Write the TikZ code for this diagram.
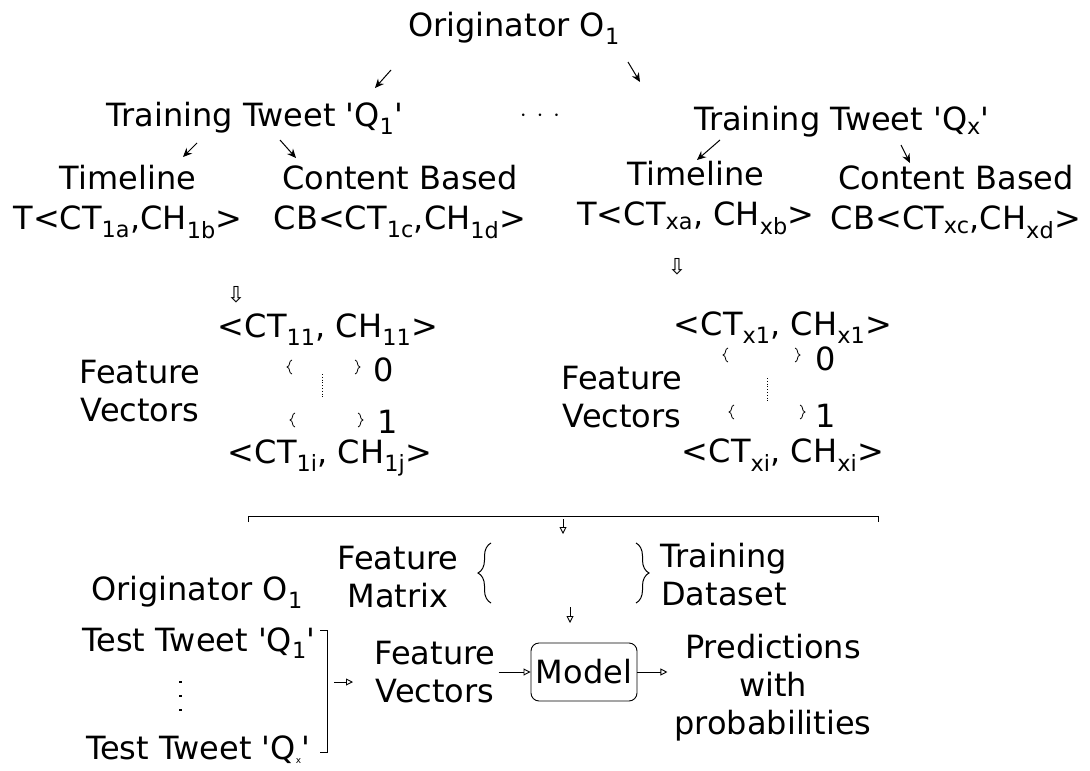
\documentclass[tikz,border=0pt]{standalone}
\usepackage{fontspec}
\setmainfont{DejaVu Sans}
\usetikzlibrary{arrows.meta, positioning, decorations.pathreplacing}
\newcommand{\sbs}[1]{\textsubscript{#1}}
\newcommand{\q}{\textquotesingle}

\tikzset{
  lbl/.style={font=\fontsize{32}{38}\selectfont, inner sep=0pt, align=center},
  dnarr/.style={font=\fontsize{22}{22}\selectfont, inner sep=0pt},
  tinybr/.style={decorate, decoration={brace, amplitude=5pt}, line width=0.8pt},
  bigbr/.style={decorate, decoration={brace, amplitude=13pt}, line width=1pt},
  solidarr/.style={-{Stealth[length=9pt,width=8pt]}, line width=1pt},
  openarr/.style={-{Triangle[open,length=7pt,width=7pt]}, line width=0.9pt},
}

\begin{document}
\begin{tikzpicture}[x=1pt,y=-1pt]
    \useasboundingbox (0,0) rectangle (1090,771);

    % top level
    \node[lbl] (orig) at (514,28) {Originator O\sbs{1}};
    \node[lbl] (tq1) at (255,118) {Training Tweet \q Q\sbs{1}\q};
    \node[lbl] (dots) at (540,116) {$\cdot\,\cdot\,\cdot$};
    \node[lbl] (tqx) at (842,122) {Training Tweet \q Q\sbs{x}\q};
    \coordinate (o1s) at (391,70);  \coordinate (o1e) at (375,88);
    \coordinate (o2s) at (628,62);  \coordinate (o2e) at (640,82);
    \draw[solidarr] (o1s) -- (o1e);
    \draw[solidarr] (o2s) -- (o2e);

    % left tweet branches
    \node[lbl] (tl1) at (128,202) {Timeline\\[2pt]T<CT\sbs{1a},CH\sbs{1b}>};
    \node[lbl] (cb1) at (400,202) {Content Based\\[2pt]CB<CT\sbs{1c},CH\sbs{1d}>};
    \coordinate (a1s) at (197,143); \coordinate (a1e) at (183,157);
    \coordinate (a2s) at (280,140); \coordinate (a2e) at (296,158);
    \draw[solidarr] (a1s) -- (a1e);
    \draw[solidarr] (a2s) -- (a2e);

    % right tweet branches
    \node[lbl] (tlx) at (696,198) {Timeline\\[2pt]T<CT\sbs{xa}, CH\sbs{xb}>};
    \node[lbl] (cbx) at (956,202) {Content Based\\[2pt]CB<CT\sbs{xc},CH\sbs{xd}>};
    \coordinate (b1s) at (720,140); \coordinate (b1e) at (697,160);
    \coordinate (b2s) at (901,145); \coordinate (b2e) at (910,163);
    \draw[solidarr] (b1s) -- (b1e);
    \draw[solidarr] (b2s) -- (b2e);

    \node[dnarr] (dn1) at (236,295) {⇩};
    \node[dnarr] (dnx) at (677,267) {⇩};

    % left feature vectors
    \node[lbl] (fv1) at (140,391) {Feature\\Vectors};
    \node[lbl] (v11) at (328,330) {<CT\sbs{11}, CH\sbs{11}>};
    \draw[tinybr] (292,374) -- (292,360);
    \draw[tinybr] (355,360) -- (355,374);
    \node[lbl] (z1) at (384,370) {0};
    \draw[tinybr] (295,427) -- (295,413);
    \draw[tinybr] (358,413) -- (358,427);
    \node[lbl] (o1) at (388,422) {1};
    \node[lbl] (v1j) at (330,458) {<CT\sbs{1i}, CH\sbs{1j}>};
    \draw[dotted, line width=0.8pt] (322,374) -- (322,398);

    % right feature vectors
    \node[lbl] (fvx) at (622,397) {Feature\\Vectors};
    \node[lbl] (vx1) at (783,328) {<CT\sbs{x1}, CH\sbs{x1}>};
    \draw[tinybr] (728,362) -- (728,348);
    \draw[tinybr] (795,348) -- (795,362);
    \node[lbl] (zx) at (826,359) {0};
    \draw[tinybr] (734,419) -- (734,405);
    \draw[tinybr] (800,405) -- (800,419);
    \node[lbl] (ox) at (826,416) {1};
    \node[lbl] (vxj) at (783,455) {<CT\sbs{xi}, CH\sbs{xi}>};
    \draw[dotted, line width=0.8pt] (767,378) -- (767,401);

    % collecting bracket
    \coordinate (bl) at (248,516); \coordinate (br) at (878,516);
    \draw[line width=0.9pt] ([yshift=-6pt]bl) -- (bl) -- (br) -- ([yshift=-6pt]br);
    \coordinate (m1s) at (563,519); \coordinate (m1e) at (563,534);
    \draw[openarr] (m1s) -- (m1e);

    % feature matrix / training dataset
    \node[lbl] (fm) at (398,577) {Feature\\Matrix};
    \draw[bigbr] (491,603) -- (491,543);
    \draw[bigbr] (636,543) -- (636,603);
    \node[lbl] (td) at (724,575) {Training\\Dataset};
    \coordinate (m2s) at (570,607); \coordinate (m2e) at (570,623);
    \draw[openarr] (m2s) -- (m2e);

    % test side
    \node[lbl] (orig2) at (197,592) {Originator O\sbs{1}};
    \node[lbl] (tt1) at (199,643) {Test Tweet \q Q\sbs{1}\q};
    \node[lbl] (ttx) at (198,750) {Test Tweet \q Q{\fontsize{9}{9}\selectfont\raisebox{-4pt}{x}}\q};
    \draw[line width=3pt, dash pattern=on 2pt off 12pt] (180,681) -- (180,712);
    \coordinate (kt) at (327,630); \coordinate (kb) at (327,752);
    \draw[line width=0.9pt] ([xshift=-7pt]kt) -- (kt) -- (kb) -- ([xshift=-7pt]kb);
    \coordinate (k1s) at (334,682); \coordinate (k1e) at (353,682);
    \draw[openarr] (k1s) -- (k1e);

    \node[lbl] (fvt) at (435,672) {Feature\\Vectors};
    \node[lbl, draw, rounded corners=8pt, line width=0.9pt, minimum width=106pt, minimum height=58pt] (model) at (584,672) {Model};
    \node[lbl] (pred) at (773,688) {Predictions\\with\\probabilities};
    \draw[openarr] (fvt.east |- model) ++(3,0) -- (model.west);
    \draw[openarr] (model.east) -- ++(30,0);
\end{tikzpicture}
\end{document}
